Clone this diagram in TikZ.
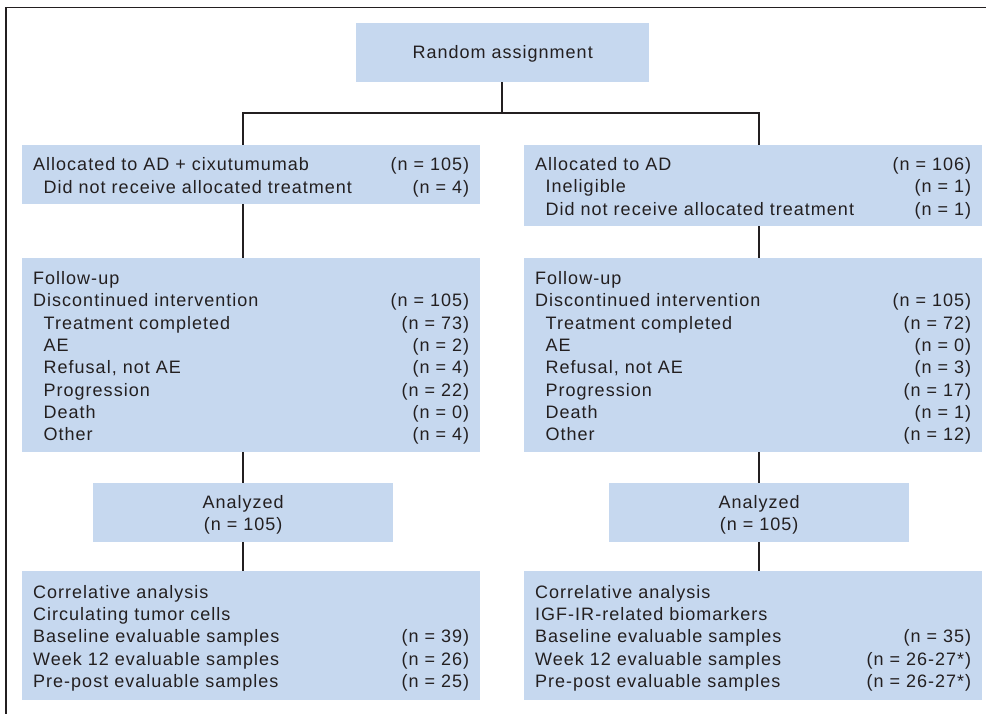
\documentclass[tikz,border=0pt]{standalone}
\usepackage{fontspec}
\setmainfont[LetterSpace=5.6]{Liberation Sans}
\definecolor{boxblue}{HTML}{C6D8EF}
\definecolor{ink}{HTML}{231F20}
\newcommand{\ind}{\hspace*{10.5pt}}
\newcommand{\row}[2]{#1\hfill #2}
\begin{document}
\begin{tikzpicture}[x=1pt,y=-1pt,
  txt/.style={font=\fontsize{18}{22.3}\selectfont, text=ink, inner sep=0pt},
  bx/.style={fill=boxblue, inner sep=0pt, anchor=north west},
  body/.style={txt, text width=436pt, align=left},
  mid/.style={txt, align=center},
  conn/.style={draw=ink, line width=2pt}]
\useasboundingbox (0,0) rectangle (986,714);
\draw[ink, line width=1.4pt] (6,714) -- (6,7.5) -- (986,7.5);

% boxes
\node[bx, minimum width=293pt, minimum height=59pt] (ra) at (356,23) {};
\node[bx, minimum width=458pt, minimum height=59pt] (lb1) at (22,145) {};
\node[bx, minimum width=458pt, minimum height=81pt] (rb1) at (524,145) {};
\node[bx, minimum width=458pt, minimum height=194pt] (lf) at (22,258) {};
\node[bx, minimum width=458pt, minimum height=194pt] (rf) at (524,258) {};
\node[bx, minimum width=300pt, minimum height=59pt] (la) at (93,483) {};
\node[bx, minimum width=300pt, minimum height=59pt] (rz) at (609,483) {};
\node[bx, minimum width=458pt, minimum height=129pt] (lc) at (22,571) {};
\node[bx, minimum width=458pt, minimum height=129pt] (rc) at (524,571) {};

% texts
\node[mid] (ra-t) at ([yshift=-1.5pt]ra.center) {Random assignment};
\node[body] (lb1-t) at ([yshift=-2.5pt]lb1.center)
 {\row{Allocated to AD + cixutumumab}{(n = 105)}\\
  \row{\ind Did not receive allocated treatment}{(n = 4)}};
\node[body] (rb1-t) at ([yshift=-2.5pt]rb1.center)
 {\row{Allocated to AD}{(n = 106)}\\
  \row{\ind Ineligible}{(n = 1)}\\
  \row{\ind Did not receive allocated treatment}{(n = 1)}};
\node[body] (lf-t) at ([yshift=-2.8pt]lf.center)
 {Follow-up\\
  \row{Discontinued intervention}{(n = 105)}\\
  \row{\ind Treatment completed}{(n = 73)}\\
  \row{\ind AE}{(n = 2)}\\
  \row{\ind Refusal, not AE}{(n = 4)}\\
  \row{\ind Progression}{(n = 22)}\\
  \row{\ind Death}{(n = 0)}\\
  \row{\ind Other}{(n = 4)}};
\node[body] (rf-t) at ([yshift=-2.8pt]rf.center)
 {Follow-up\\
  \row{Discontinued intervention}{(n = 105)}\\
  \row{\ind Treatment completed}{(n = 72)}\\
  \row{\ind AE}{(n = 0)}\\
  \row{\ind Refusal, not AE}{(n = 3)}\\
  \row{\ind Progression}{(n = 17)}\\
  \row{\ind Death}{(n = 1)}\\
  \row{\ind Other}{(n = 12)}};
\node[mid] (la-t) at ([yshift=-2pt]la.center) {Analyzed\\(n = 105)};
\node[mid] (rz-t) at ([yshift=-2pt]rz.center) {Analyzed\\(n = 105)};
\node[body] (lc-t) at ([yshift=-2.5pt]lc.center)
 {Correlative analysis\\
  Circulating tumor cells\\
  \row{Baseline evaluable samples}{(n = 39)}\\
  \row{Week 12 evaluable samples}{(n = 26)}\\
  \row{Pre-post evaluable samples}{(n = 25)}};
\node[body] (rc-t) at ([yshift=-2.5pt]rc.center)
 {Correlative analysis\\
  IGF-IR-related biomarkers\\
  \row{Baseline evaluable samples}{(n = 35)}\\
  \row{Week 12 evaluable samples}{(n = 26-27*)}\\
  \row{Pre-post evaluable samples}{(n = 26-27*)}};

% connectors
\coordinate (jl) at (243,113);
\coordinate (jr) at (759,113);
\coordinate (jm) at (501.7,113);
\draw[conn] (jm |- ra.south) -- (jm);
\draw[conn] (jl |- lb1.north) -- (jl) -- (jr) -- (jr |- rb1.north);
\draw[conn] (jl |- lb1.south) -- (jl |- lf.north);
\draw[conn] (jr |- rb1.south) -- (jr |- rf.north);
\draw[conn] (la.north |- lf.south) -- (la.north);
\draw[conn] (la.south) -- (la.south |- lc.north);
\draw[conn] (rz.north |- rf.south) -- (rz.north);
\draw[conn] (rz.south) -- (rz.south |- rc.north);
\end{tikzpicture}
\end{document}
